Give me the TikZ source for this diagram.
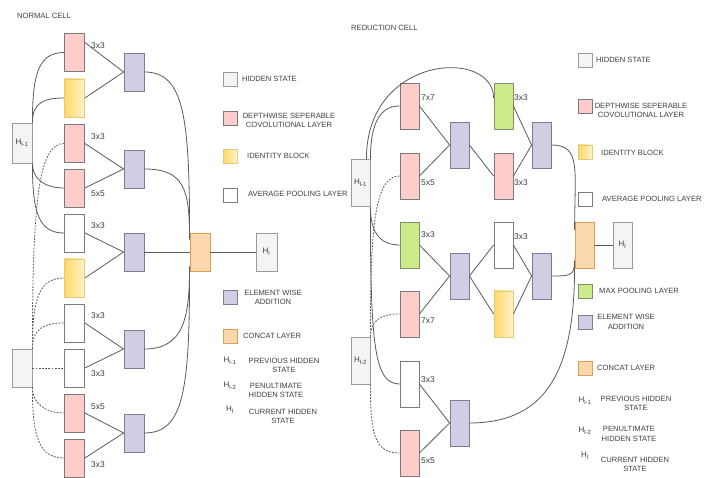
\documentclass[tikz,border=0pt]{standalone}
\usepackage{fontspec}
\setmainfont{Liberation Sans}
\usetikzlibrary{calc}
\definecolor{txt}{HTML}{3F3F3F}
\definecolor{hidfill}{HTML}{F4F4F4}
\definecolor{hiddraw}{HTML}{9A9A9A}
\definecolor{pinkfill}{HTML}{FFCCCC}
\definecolor{opdraw}{HTML}{7A7A7A}
\definecolor{yelA}{HTML}{FFD966}
\definecolor{yelB}{HTML}{FFF2CC}
\definecolor{yeldraw}{HTML}{E3C978}
\definecolor{greenfill}{HTML}{CDEB8B}
\definecolor{greendraw}{HTML}{7F8F6A}
\definecolor{addfill}{HTML}{D0CEE2}
\definecolor{adddraw}{HTML}{7D7A9C}
\definecolor{catfill}{HTML}{FAD7AC}
\definecolor{catdraw}{HTML}{DCA050}
\definecolor{wire}{HTML}{5A5A5A}
\pgfdeclarehorizontalshading{yelsh}{100bp}{color(0bp)=(yelA); color(25bp)=(yelA); color(75bp)=(yelB); color(100bp)=(yelB)}
\tikzset{
  bx/.style={rectangle, inner sep=0pt, line width=0.8pt},
  hid/.style={bx, fill=hidfill, draw=hiddraw, text=txt, font=\fontsize{8}{9}\selectfont},
  pinkop/.style={bx, fill=pinkfill, draw=opdraw},
  yelop/.style={bx, shading=yelsh, shading angle=0, draw=yeldraw},
  whiteop/.style={bx, fill=white, draw=opdraw},
  greenop/.style={bx, fill=greenfill, draw=greendraw},
  addop/.style={bx, fill=addfill, draw=adddraw},
  catop/.style={bx, fill=catfill, draw=catdraw},
  nsz/.style={minimum width=20pt, minimum height=38pt},
  rsz/.style={minimum width=19pt, minimum height=46pt},
  lsz/.style={minimum width=14pt, minimum height=14pt},
  wirel/.style={draw=wire, line width=0.8pt},
  dashl/.style={draw=wire, line width=0.8pt, dash pattern=on 1.8pt off 1.4pt},
  lbl/.style={text=txt, font=\fontsize{8.4}{9}\selectfont, inner sep=0pt, anchor=west},
  leg/.style={text=txt, font=\fontsize{7.6}{9.5}\selectfont, inner sep=0pt, align=center},
  ttl/.style={text=txt, font=\fontsize{7.6}{9}\selectfont, inner sep=0pt, anchor=west}
}
\begin{document}
\begin{tikzpicture}[x=1pt,y=-1pt]
\useasboundingbox (0,0) rectangle (713,478);
% ================= NORMAL CELL =================
\node[ttl] (tn) at (17,16) {NORMAL CELL};
\node[hid, minimum width=20pt, minimum height=40pt] (NH1) at (22,143) {H\textsubscript{l-1}};
\node[hid, minimum width=20pt, minimum height=38pt] (NH2) at (22,368) {};
\node[pinkop,nsz] (n1) at (74.5,52.5) {};
\node[yelop,nsz] (n2) at (74.5,98) {};
\node[pinkop,nsz] (n3) at (74.5,143.5) {};
\node[pinkop,nsz] (n4) at (74.5,188) {};
\node[whiteop,nsz] (n5) at (74.5,233) {};
\node[yelop,nsz] (n6) at (74.5,278) {};
\node[whiteop,nsz] (n7) at (74.5,323) {};
\node[whiteop,nsz] (n8) at (74.5,368) {};
\node[pinkop,nsz] (n9) at (74.5,413) {};
\node[pinkop,nsz] (n10) at (74.5,458) {};
\node[lbl] (l1) at (91,46) {3x3};
\node[lbl] (l3) at (91,137) {3x3};
\node[lbl] (l4) at (91,194) {5x5};
\node[lbl] (l5) at (91,226) {3x3};
\node[lbl] (l7) at (91,316) {3x3};
\node[lbl] (l8) at (91,374) {3x3};
\node[lbl] (l9) at (91,407) {5x5};
\node[lbl] (l10) at (91,465) {3x3};
\node[addop,nsz] (a1) at (134,72) {};
\node[addop,nsz] (a2) at (134,169) {};
\node[addop,nsz] (a3) at (134,252) {};
\node[addop,nsz] (a4) at (134,349) {};
\node[addop,nsz] (a5) at (134,433) {};
\node[catop,nsz] (nc) at (200,252) {};
\node[hid, minimum width=21pt, minimum height=38pt] (NHl) at (266.5,252) {H\textsubscript{l}};
% op -> add
\draw[wirel] ([yshift=10pt]n1.east) -- (a1.west);
\draw[wirel] (n2.east) -- (a1.west);
\draw[wirel] (n3.east) -- (a2.west);
\draw[wirel] (n4.east) -- (a2.west);
\draw[wirel] (n5.east) -- (a3.west);
\draw[wirel] (n6.east) -- (a3.west);
\draw[wirel] (n7.east) -- (a4.west);
\draw[wirel] (n8.east) -- (a4.west);
\draw[wirel] (n9.east) -- (a5.west);
\draw[wirel] (n10.east) -- (a5.west);
% add -> concat
\draw[wirel] (a1.east) .. controls +(40,0) and +(0,-120) .. ($(nc.north west)+(0,5)$);
\draw[wirel] (a2.east) .. controls +(40,0) and +(0,-50) .. ($(nc.north west)+(0,7)$);
\draw[wirel] (a3.east) -- (nc.west);
\draw[wirel] (a4.east) .. controls +(40,0) and +(0,50) .. ($(nc.south west)+(0,-5)$);
\draw[wirel] (a5.east) .. controls +(40,0) and +(0,120) .. ($(nc.south west)+(0,-3)$);
\draw[wirel] (nc.east) -- (NHl.west);
% H_{l-1} -> ops
\draw[wirel] (NH1.north east) .. controls +(0,-50) and +(-25,0) .. (n1.west);
\draw[wirel] (NH1.north east) .. controls +(0,-20) and +(-20,0) .. (n2.west);
\draw[wirel] (NH1.south east) .. controls +(0,15) and +(-20,0) .. (n4.west);
\draw[wirel] (NH1.south east) .. controls +(0,50) and +(-25,0) .. (n5.west);
% H_{l-2} -> ops (dashed)
\draw[dashl] (NH2.north east) .. controls +(0,-150) and +(-25,0) .. (n3.west);
\draw[dashl] (NH2.north east) .. controls +(0,-50) and +(-25,0) .. (n6.west);
\draw[dashl] (NH2.north east) .. controls +(0,-20) and +(-20,0) .. (n7.west);
\draw[dashl] (NH2.east) -- (n8.west);
\draw[dashl] (NH2.south east) .. controls +(0,15) and +(-20,0) .. (n9.west);
\draw[dashl] (NH2.south east) .. controls +(0,50) and +(-25,0) .. (n10.west);
% legend normal
\node[hid,lsz] (lg1) at (230,79) {};
\node[leg,anchor=west] (lt1) at (242,79) {HIDDEN STATE};
\node[pinkop,lsz] (lg2) at (230,118) {};
\node[leg] (lt2) at (289,120.5) {DEPTHWISE SEPERABLE\\COVOLUTIONAL LAYER};
\node[yelop,lsz] (lg3) at (230,156.5) {};
\node[leg,anchor=west] (lt3) at (247,156) {IDENTITY BLOCK};
\node[whiteop,lsz] (lg4) at (230,195) {};
\node[leg,anchor=west] (lt4) at (248,194) {AVERAGE POOLING LAYER};
\node[addop,lsz] (lg5) at (230,297.5) {};
\node[leg] (lt5) at (273,297.5) {ELEMENT WISE\\ADDITION};
\node[catop,lsz] (lg6) at (230,336.5) {};
\node[leg,anchor=west] (lt6) at (243,336) {CONCAT LAYER};
\node[leg,font=\fontsize{8}{9}\selectfont] (lh1) at (230,361) {H\textsubscript{l-1}};
\node[leg] (lt7) at (284,365.5) {PREVIOUS HIDDEN\\STATE};
\node[leg,font=\fontsize{8}{9}\selectfont] (lh2) at (230,386) {H\textsubscript{l-2}};
\node[leg] (lt8) at (276,390.5) {PENULTIMATE\\HIDDEN STATE};
\node[leg,font=\fontsize{8}{9}\selectfont] (lh3) at (230,410) {H\textsubscript{l}};
\node[leg] (lt9) at (283,416.5) {CURRENT HIDDEN\\STATE};
% ================= REDUCTION CELL =================
\node[ttl] (tr) at (351,28) {REDUCTION CELL};
\node[hid, minimum width=19pt, minimum height=47pt] (RH1) at (360.5,183) {H\textsubscript{l-1}};
\node[hid, minimum width=19pt, minimum height=47pt] (RH2) at (360.5,360.5) {H\textsubscript{l-2}};
\node[pinkop,rsz] (r1) at (409.5,106) {};
\node[pinkop,rsz] (r2) at (409.5,176) {};
\node[greenop,rsz] (r3) at (409.5,245) {};
\node[pinkop,rsz] (r4) at (409.5,314) {};
\node[whiteop,rsz] (r5) at (409.5,384) {};
\node[pinkop,rsz] (r6) at (409.5,453) {};
\node[greenop,rsz] (r7) at (503.5,106) {};
\node[pinkop,rsz] (r8) at (503.5,176) {};
\node[whiteop,rsz] (r9) at (503.5,245) {};
\node[yelop,rsz] (r10) at (503.5,314) {};
\node[addop,rsz] (ra1) at (459.5,145) {};
\node[addop,rsz] (ra2) at (459.5,276) {};
\node[addop,rsz] (ra3) at (459.5,423) {};
\node[addop,rsz] (ra4) at (541.5,145) {};
\node[addop,rsz] (ra5) at (541.5,276) {};
\node[catop,rsz] (rc) at (584.5,245) {};
\node[hid, minimum width=19pt, minimum height=46pt] (RHl) at (622.5,245) {H\textsubscript{l}};
\node[lbl] (m1) at (421,98) {7x7};
\node[lbl] (m2) at (421,183) {5x5};
\node[lbl] (m3) at (421,235) {3x3};
\node[lbl] (m4) at (421,321) {7x7};
\node[lbl] (m5) at (421,380) {3x3};
\node[lbl] (m6) at (421,461) {5x5};
\node[lbl] (m7) at (514,98) {3x3};
\node[lbl] (m8) at (514,183) {3x3};
\node[lbl] (m9) at (514,237) {3x3};
% op -> add
\draw[wirel] (r1.east) -- (ra1.west);
\draw[wirel] (r2.east) -- (ra1.west);
\draw[wirel] (ra1.east) -- (r8.west);
\draw[wirel] (r7.east) -- (ra4.west);
\draw[wirel] (r8.east) -- (ra4.west);
\draw[wirel] (r3.east) -- (ra2.west);
\draw[wirel] (r4.east) -- (ra2.west);
\draw[wirel] (ra2.east) -- (r9.west);
\draw[wirel] (ra2.east) -- (r10.west);
\draw[wirel] (r9.east) -- (ra5.west);
\draw[wirel] (r10.east) -- (ra5.west);
\draw[wirel] (r5.east) -- (ra3.west);
\draw[wirel] (r6.east) -- (ra3.west);
% add -> concat
\draw[wirel] (ra4.east) .. controls +(30,0) and +(0,-60) .. ($(rc.north west)+(0,8)$);
\draw[wirel] (ra5.east) .. controls +(20,0) and +(0,15) .. ($(rc.south west)+(0,-8)$);
\draw[wirel] (ra3.east) .. controls +(80,0) and +(0,100) .. ($(rc.south west)+(0,-2)$);
\draw[wirel] (rc.east) -- (RHl.west);
% H_{l-1}
\draw[wirel] (RH1.north east) .. controls +(0,-35) and +(-20,0) .. (r1.west);
\draw[wirel] ([xshift=-4pt]RH1.north east) .. controls +(0,-105) and +(0,-50) .. ([yshift=8pt]r7.west);
\draw[wirel] (RH1.south east) .. controls +(0,25) and +(-20,0) .. (r3.west);
\draw[wirel] (RH1.south east) .. controls +(0,140) and +(-25,0) .. (r5.west);
% H_{l-2} dashed
\draw[dashl] (RH2.north east) .. controls +(0,-110) and +(-25,0) .. (r2.west);
\draw[dashl] (RH2.north east) .. controls +(0,-15) and +(-20,0) .. (r4.west);
\draw[dashl] (RH2.south east) .. controls +(0,50) and +(-25,0) .. (r6.west);
% legend reduction
\node[hid,lsz] (rg1) at (585,60) {};
\node[leg,anchor=west] (rt1) at (596,60) {HIDDEN STATE};
\node[pinkop,lsz] (rg2) at (585,106) {};
\node[leg] (rt2) at (641,110.5) {DEPTHWISE SEPERABLE\\COVOLUTIONAL LAYER};
\node[yelop,lsz] (rg3) at (585,152) {};
\node[leg,anchor=west] (rt3) at (601,153) {IDENTITY BLOCK};
\node[whiteop,lsz] (rg4) at (585,199) {};
\node[leg,anchor=west] (rt4) at (602,199) {AVERAGE POOLING LAYER};
\node[greenop,lsz] (rg5) at (585,291.5) {};
\node[leg,anchor=west] (rt5) at (599,291) {MAX POOLING LAYER};
\node[addop,lsz] (rg6) at (585,322) {};
\node[leg] (rt6) at (626,322) {ELEMENT WISE\\ADDITION};
\node[catop,lsz] (rg7) at (585,368.5) {};
\node[leg,anchor=west] (rt7) at (597,368) {CONCAT LAYER};
\node[leg,font=\fontsize{8}{9}\selectfont] (rh1) at (585,401) {H\textsubscript{l-1}};
\node[leg] (rt8) at (636,403.5) {PREVIOUS HIDDEN\\STATE};
\node[leg,font=\fontsize{8}{9}\selectfont] (rh2) at (585,431) {H\textsubscript{l-2}};
\node[leg] (rt9) at (629,434) {PENULTIMATE\\HIDDEN STATE};
\node[leg,font=\fontsize{8}{9}\selectfont] (rh3) at (585,456) {H\textsubscript{l}};
\node[leg] (rt10) at (635,464.5) {CURRENT HIDDEN\\STATE};
\end{tikzpicture}
\end{document}
